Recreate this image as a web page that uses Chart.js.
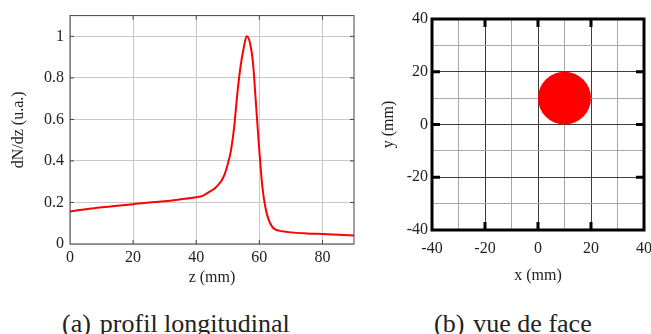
<!DOCTYPE html>
<html lang="fr">
<head>
<meta charset="utf-8">
<script src="https://cdn.jsdelivr.net/npm/chart.js@4"></script>
<style>
  html, body {
    margin: 0;
    padding: 0;
    background: #ffffff;
  }
  body {
    position: relative;
    width: 651px;
    height: 334px;
    overflow: hidden;
  }
  .panel {
    position: absolute;
    top: 0;
  }
  .caption {
    position: absolute;
    top: 311px;
    font-family: 'Liberation Serif', serif;
    font-size: 26px;
    color: #222;
    white-space: nowrap;
    line-height: 1;
  }
  .caption .lbl {
    margin-right: 9px;
  }
</style>
</head>
<body>
<div class="panel" style="left:0px"><canvas id="profil" width="370" height="290"></canvas></div>
<div class="panel" style="left:370px"><canvas id="face" width="300" height="290"></canvas></div>
<div class="caption" style="left:62px"><span class="lbl">(a)</span>profil longitudinal</div>
<div class="caption" style="left:434px"><span class="lbl">(b)</span>vue de face</div>

<script>
// ===== DONNÉES =====
// (a) profil longitudinal : dN/dz en fonction de z (mm)
const zValues = [
  0, 5, 10, 15, 20, 25, 30, 35, 40, 42, 44, 46, 48, 49, 50, 51, 52, 53, 54,
  55, 56, 57, 58, 59, 60, 61, 62, 63, 64, 65, 67, 70, 75, 80, 85, 90,
]
const dNdz = [
  0.157, 0.167, 0.177, 0.184, 0.192, 0.2, 0.206, 0.215, 0.225, 0.232, 0.25,
  0.27, 0.305, 0.335, 0.385, 0.45, 0.56, 0.72, 0.85, 0.94, 1.0, 0.97, 0.87,
  0.66, 0.45, 0.27, 0.17, 0.115, 0.085, 0.07, 0.062, 0.056, 0.051, 0.048,
  0.045, 0.041,
]
const zTicks = [0, 20, 40, 60, 80]
const dNdzTicks = [0, 0.2, 0.4, 0.6, 0.8, 1]

// (b) vue de face : tache circulaire
const spotCenter = [10, 10] // x, y (mm)
const spotRadius = 10 // mm
const faceGrid = [-40, -30, -20, -10, 0, 10, 20, 30, 40]
const faceTicks = [-40, -20, 0, 20, 40]
const faceInnerTicks = [-20, 0, 20]

// Police serif partout (ticks compris)
Chart.defaults.font.family = "'Liberation Serif', serif"
Chart.defaults.font.size = 16
Chart.defaults.color = '#222'

// ===== PLUGIN CADRE + GRADUATIONS INTÉRIEURES =====
const framePlugin = {
  id: 'frame',
  afterDraw(chart, args, opts) {
    const { ctx, chartArea: a, scales } = chart
    ctx.save()
    ctx.strokeStyle = opts.color
    ctx.lineWidth = opts.tickWidth
    ctx.beginPath()
    opts.xTicks.forEach((v) => {
      const px = scales.x.getPixelForValue(v)
      ctx.moveTo(px, a.bottom)
      ctx.lineTo(px, a.bottom - opts.tickLength)
      ctx.moveTo(px, a.top)
      ctx.lineTo(px, a.top + opts.tickLength)
    })
    opts.yTicks.forEach((v) => {
      const py = scales.y.getPixelForValue(v)
      ctx.moveTo(a.left, py)
      ctx.lineTo(a.left + opts.tickLength, py)
      ctx.moveTo(a.right, py)
      ctx.lineTo(a.right - opts.tickLength, py)
    })
    ctx.stroke()
    ctx.lineWidth = opts.width
    ctx.strokeRect(a.left, a.top, a.right - a.left, a.bottom - a.top)
    ctx.restore()
  },
}

// ===== GRAPHIQUE (a) =====
new Chart(document.getElementById('profil'), {
  type: 'line',
  data: {
    datasets: [
      {
        data: zValues.map((z, i) => ({ x: z, y: dNdz[i] })),
        borderColor: '#ff0000',
        borderWidth: 2,
        pointRadius: 0,
        cubicInterpolationMode: 'monotone',
        fill: false,
      },
    ],
  },
  options: {
    responsive: false,
    devicePixelRatio: 1,
    animation: false,
    events: [],
    layout: { padding: { top: 7, right: 16, left: 0, bottom: 0 } },
    scales: {
      x: {
        type: 'linear',
        min: 0,
        max: 90,
        afterBuildTicks: (scale) => {
          scale.ticks = zTicks.map((v) => ({ value: v }))
        },
        afterFit: (scale) => {
          scale.height = 46
        },
        grid: { color: '#c8c8c8', lineWidth: 1, drawTicks: false },
        border: { display: false },
        ticks: {
          padding: 4,
          maxRotation: 0,
          callback: (v) => String(v),
        },
        title: {
          display: true,
          text: 'z (mm)',
          padding: { top: 0, bottom: 3 },
        },
      },
      y: {
        min: 0,
        max: 1.1,
        afterBuildTicks: (scale) => {
          scale.ticks = dNdzTicks.map((v) => ({ value: v }))
        },
        afterFit: (scale) => {
          scale.width = 70
        },
        grid: { color: '#c8c8c8', lineWidth: 1, drawTicks: false },
        border: { display: false },
        ticks: {
          padding: 6,
          callback: (v) => String(v),
        },
        title: {
          display: true,
          text: 'dN/dz (u.a.)',
          padding: { top: 9, bottom: 0 },
        },
      },
    },
    plugins: {
      legend: { display: false },
      tooltip: { enabled: false },
      frame: {
        color: '#444',
        width: 1,
        tickWidth: 1,
        tickLength: 4,
        xTicks: zTicks.slice(1),
        yTicks: dNdzTicks.slice(1),
      },
    },
  },
  plugins: [framePlugin],
})

// ===== GRAPHIQUE (b) =====
const gridColor = (c) =>
  c.tick && c.tick.value % 20 === 0 ? '#3c3c3c' : '#a8a8a8'

new Chart(document.getElementById('face'), {
  type: 'scatter',
  data: {
    datasets: [
      {
        data: [{ x: spotCenter[0], y: spotCenter[1] }],
        backgroundColor: '#ff0000',
        borderWidth: 0,
        pointRadius: (c) => {
          const s = c.chart.scales.x
          return Math.abs(
            s.getPixelForValue(spotCenter[0] + spotRadius) -
              s.getPixelForValue(spotCenter[0]),
          )
        },
      },
    ],
  },
  options: {
    responsive: false,
    devicePixelRatio: 1,
    animation: false,
    events: [],
    layout: { padding: { top: 19, right: 26, left: 0, bottom: 0 } },
    scales: {
      x: {
        type: 'linear',
        min: -40,
        max: 40,
        z: 1,
        afterBuildTicks: (scale) => {
          scale.ticks = faceGrid.map((v) => ({ value: v }))
        },
        afterFit: (scale) => {
          scale.height = 60
        },
        grid: { color: gridColor, lineWidth: 1, drawTicks: false },
        border: { display: false },
        ticks: {
          padding: 9,
          autoSkip: false,
          maxRotation: 0,
          callback: (v) => (faceTicks.includes(v) ? String(v) : ''),
        },
        title: {
          display: true,
          text: 'x (mm)',
          padding: { top: 0, bottom: 5 },
        },
      },
      y: {
        min: -40,
        max: 40,
        z: 1,
        afterBuildTicks: (scale) => {
          scale.ticks = faceGrid.map((v) => ({ value: v }))
        },
        afterFit: (scale) => {
          scale.width = 62
        },
        grid: { color: gridColor, lineWidth: 1, drawTicks: false },
        border: { display: false },
        ticks: {
          padding: 4,
          autoSkip: false,
          callback: (v) => (faceTicks.includes(v) ? String(v) : ''),
        },
        title: {
          display: true,
          text: 'y (mm)',
          padding: { top: 9, bottom: 0 },
        },
      },
    },
    plugins: {
      legend: { display: false },
      tooltip: { enabled: false },
      frame: {
        color: '#000',
        width: 3,
        tickWidth: 3,
        tickLength: 8,
        xTicks: faceInnerTicks,
        yTicks: faceInnerTicks,
      },
    },
  },
  plugins: [framePlugin],
})
</script>
</body>
</html>
